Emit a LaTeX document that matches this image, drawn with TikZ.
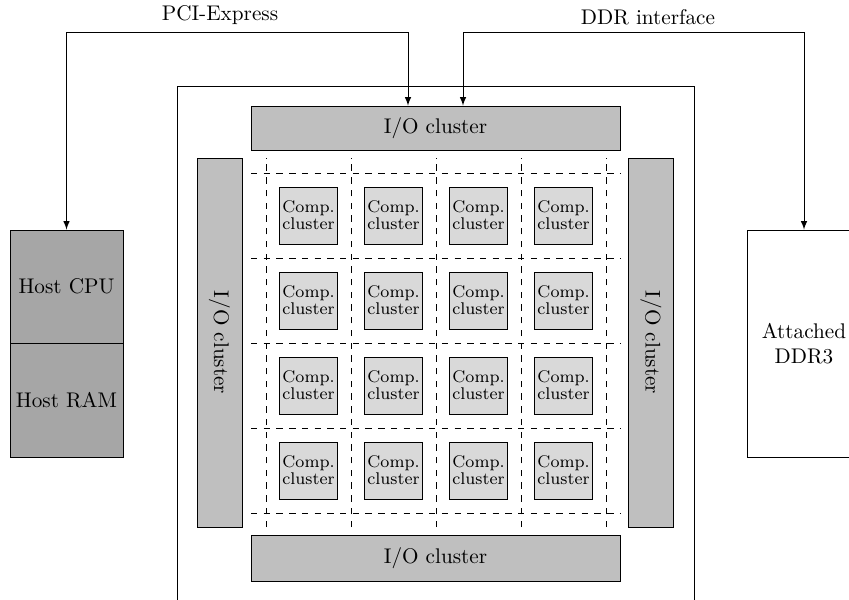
\documentclass[tikz,border=0pt]{standalone}
\usetikzlibrary{arrows}
\def\pxu{0.4717pt}
\begin{document}
\begin{tikzpicture}[x=0.4717pt,y=-0.4717pt,
  hostbox/.style={draw, fill=black!35, minimum width=113*\pxu, minimum height=113*\pxu, inner sep=0pt},
  plainbox/.style={draw, fill=white, inner sep=0pt, align=center},
  iobox/.style={draw, fill=black!25, inner sep=0pt},
  comp/.style={draw, fill=black!15, minimum width=58*\pxu, minimum height=57*\pxu, inner sep=0pt, align=center, font=\footnotesize},
  grid/.style={dashed},
  link/.style={latex-latex}]
\useasboundingbox (0,0) rectangle (849,599);
\clip (0,0) rectangle (849,599);
% chip outline
\node[draw, minimum width=517*\pxu, minimum height=540*\pxu, inner sep=0pt] (chip) at (435.5,356) {};
% host
\node[hostbox] (hostcpu) at (66.5,286.5) {Host CPU};
\node[hostbox, minimum height=114*\pxu] (hostram) at (66.5,400) {Host RAM};
% DDR3
\node[plainbox, minimum width=113*\pxu, minimum height=227*\pxu] (ddr3) at (804,343.5) {Attached\\DDR3};
% I/O clusters
\node[iobox, minimum width=369*\pxu, minimum height=44*\pxu] (iotop) at (435.5,128) {I/O cluster};
\node[iobox, minimum width=369*\pxu, minimum height=46*\pxu] (iobot) at (435.5,558) {I/O cluster};
\node[iobox, minimum width=45*\pxu, minimum height=369*\pxu] (ioleft) at (219.5,342.5) {};
\node[rotate=-90] (iolefttext) at (ioleft.center) {I/O cluster};
\node[iobox, minimum width=45*\pxu, minimum height=369*\pxu] (ioright) at (651,342.5) {};
\node[rotate=-90] (iorighttext) at (ioright.center) {I/O cluster};
% grid
\foreach \k in {0,...,4} {
  \draw[grid] (266+85*\k,527) -- (266+85*\k,158);
  \draw[grid] (251,173+85*\k) -- (620,173+85*\k);
}
% compute clusters
\foreach \i in {0,...,3} {
  \foreach \j in {0,...,3} {
    \node[comp] (c\i\j) at (308.5+85*\i,215.5+85*\j) {Comp.\\[-1.5pt]cluster};
  }
}
% links
\coordinate (pciturn) at (408,32);
\coordinate (ddrturn) at (463,32);
\draw[link] (hostcpu.north) |- (pciturn) -- (pciturn |- iotop.north);
\draw[link] (ddrturn |- iotop.north) -- (ddrturn) -| (ddr3.north);
\node[above] (pcilabel) at (220,32) {PCI-Express};
\node[above] (ddrlabel) at (648,32) {DDR interface};
\end{tikzpicture}
\end{document}
